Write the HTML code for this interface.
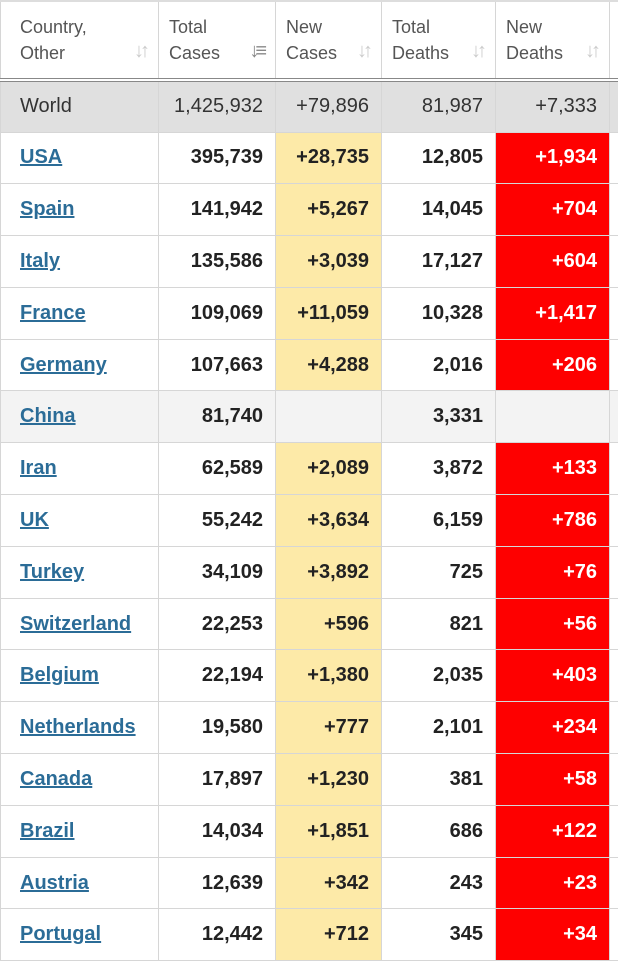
<!DOCTYPE html>
<html><head><meta charset="utf-8"><style>
body{margin:0;width:618px;height:960px;overflow:hidden;background:#fff;font-family:"Liberation Sans",Arial,sans-serif;}
table{position:absolute;left:0;top:0;border-collapse:collapse;table-layout:fixed;width:624px;}
td,th{border:1px solid #d6d6d6;padding:0 12px 0 0;text-align:right;font-size:20px;color:#222;font-weight:bold;height:51.8px;box-sizing:border-box;white-space:nowrap;overflow:hidden}
th{height:79px;font-weight:normal;color:#555;font-size:18px;text-align:left;padding:0 0 0 10px;line-height:26px;vertical-align:middle;border-bottom:4px double #888;border-top:2px solid #ddd;position:relative}
th:first-child{padding-left:19px}
th .s{position:absolute;right:12px;bottom:14px;color:#ccc;font-size:20px;letter-spacing:-4px;font-weight:bold}
td:first-child{text-align:left;padding-left:19px}
td a{color:#2b6c97;text-decoration:underline}
tr.w td{background:#e0e0e0;font-weight:normal;color:#333;height:52px;font-size:20px}
tr.c td{background:#f3f3f3}
.y{background:#fdeaa8}
.r{background:#fe0000;color:#fff}
</style></head><body>
<table>
<colgroup><col style="width:158px"><col style="width:117px"><col style="width:106px"><col style="width:114px"><col style="width:114px"><col style="width:15px"></colgroup>
<tr><th>Country,<br>Other<span class="s">↓↑</span></th><th>Total<br>Cases<span class="s" style="color:#888">↓≡</span></th><th>New<br>Cases<span class="s">↓↑</span></th><th>Total<br>Deaths<span class="s">↓↑</span></th><th>New<br>Deaths<span class="s">↓↑</span></th><th></th></tr>
<tr class="w"><td>World</td><td>1,425,932</td><td>+79,896</td><td>81,987</td><td>+7,333</td><td></td></tr>
<tr><td><a>USA</a></td><td>395,739</td><td class="y">+28,735</td><td>12,805</td><td class="r">+1,934</td><td></td></tr>
<tr><td><a>Spain</a></td><td>141,942</td><td class="y">+5,267</td><td>14,045</td><td class="r">+704</td><td></td></tr>
<tr><td><a>Italy</a></td><td>135,586</td><td class="y">+3,039</td><td>17,127</td><td class="r">+604</td><td></td></tr>
<tr><td><a>France</a></td><td>109,069</td><td class="y">+11,059</td><td>10,328</td><td class="r">+1,417</td><td></td></tr>
<tr><td><a>Germany</a></td><td>107,663</td><td class="y">+4,288</td><td>2,016</td><td class="r">+206</td><td></td></tr>
<tr class="c"><td><a>China</a></td><td>81,740</td><td></td><td>3,331</td><td></td><td></td></tr>
<tr><td><a>Iran</a></td><td>62,589</td><td class="y">+2,089</td><td>3,872</td><td class="r">+133</td><td></td></tr>
<tr><td><a>UK</a></td><td>55,242</td><td class="y">+3,634</td><td>6,159</td><td class="r">+786</td><td></td></tr>
<tr><td><a>Turkey</a></td><td>34,109</td><td class="y">+3,892</td><td>725</td><td class="r">+76</td><td></td></tr>
<tr><td><a>Switzerland</a></td><td>22,253</td><td class="y">+596</td><td>821</td><td class="r">+56</td><td></td></tr>
<tr><td><a>Belgium</a></td><td>22,194</td><td class="y">+1,380</td><td>2,035</td><td class="r">+403</td><td></td></tr>
<tr><td><a>Netherlands</a></td><td>19,580</td><td class="y">+777</td><td>2,101</td><td class="r">+234</td><td></td></tr>
<tr><td><a>Canada</a></td><td>17,897</td><td class="y">+1,230</td><td>381</td><td class="r">+58</td><td></td></tr>
<tr><td><a>Brazil</a></td><td>14,034</td><td class="y">+1,851</td><td>686</td><td class="r">+122</td><td></td></tr>
<tr><td><a>Austria</a></td><td>12,639</td><td class="y">+342</td><td>243</td><td class="r">+23</td><td></td></tr>
<tr><td><a>Portugal</a></td><td>12,442</td><td class="y">+712</td><td>345</td><td class="r">+34</td><td></td></tr>
</table>
</body></html>
